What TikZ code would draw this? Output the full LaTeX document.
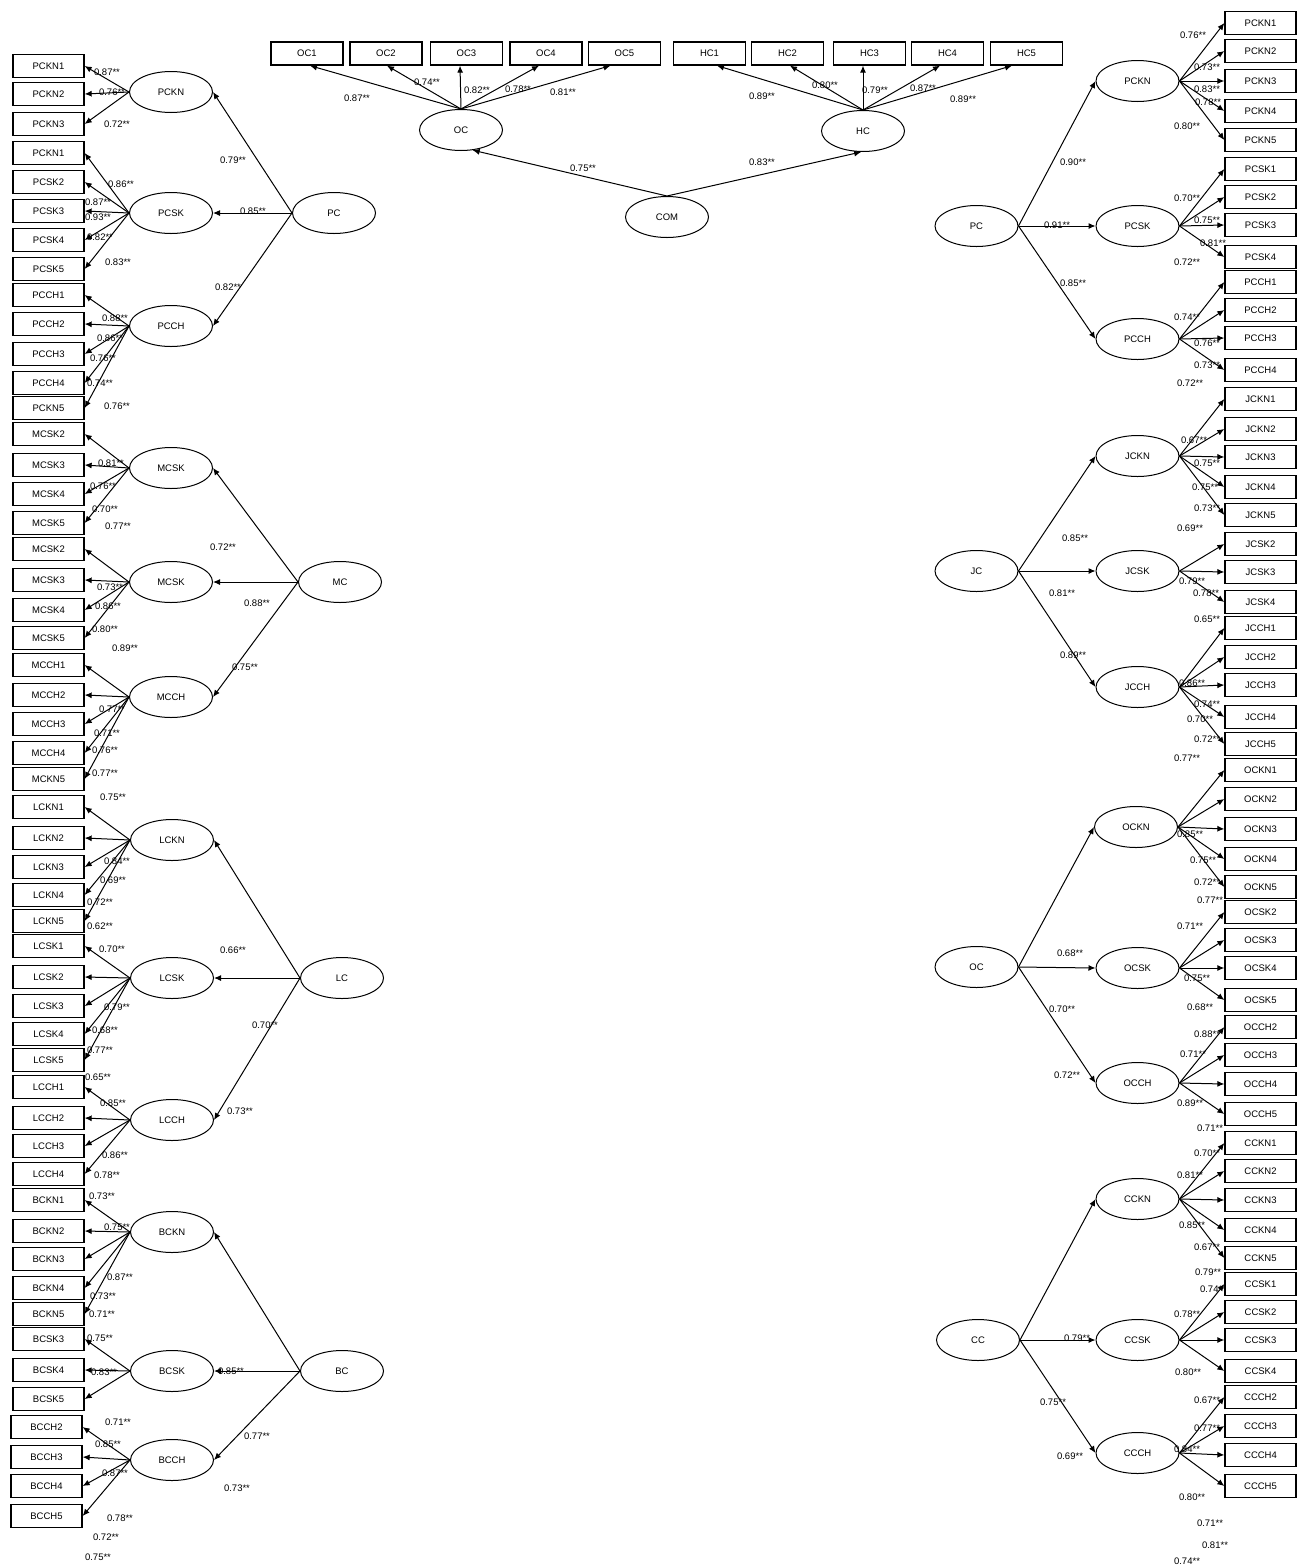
\documentclass[tikz,border=0pt]{standalone}
\usepackage{fontspec}
\setmainfont{Liberation Sans}
\usetikzlibrary{arrows.meta,shapes.geometric}
\begin{document}
\begin{tikzpicture}[x=1pt,y=-1pt,
  ind/.style={draw,line width=1.3pt,minimum width=71pt,minimum height=23pt,inner sep=0pt,font=\fontsize{9.5}{10}\selectfont},
  tind/.style={ind,minimum width=72pt},
  lat/.style={draw,ellipse,line width=1pt,minimum width=83pt,minimum height=41pt,inner sep=0pt,font=\fontsize{9.5}{10}\selectfont},
  arr/.style={line width=1pt,-{Latex[length=7pt,width=6pt]}},
  lab/.style={inner sep=0pt,font=\fontsize{9.5}{10}\selectfont}]
\useasboundingbox (0,0) rectangle (1307,1567);
% ---------- left indicator boxes
\foreach \n/\t/\y in {L1/PCKN1/66,L2/PCKN2/94,L3/PCKN3/124,L4/PCKN1/153,L5/PCSK2/182,L6/PCSK3/211,L7/PCSK4/240,L8/PCSK5/269,L9/PCCH1/295,L10/PCCH2/324,L11/PCCH3/354,L12/PCCH4/383,L13/PCKN5/408,
L14/MCSK2/434,L15/MCSK3/465,L16/MCSK4/494,L17/MCSK5/523,L18/MCSK2/549,L19/MCSK3/580,L20/MCSK4/610,L21/MCSK5/638,L22/MCCH1/665,L23/MCCH2/695,L24/MCCH3/724,L25/MCCH4/753,L26/MCKN5/779,
L27/LCKN1/807,L28/LCKN2/838,L29/LCKN3/867,L30/LCKN4/895,L31/LCKN5/921,L32/LCSK1/946,L33/LCSK2/977,L34/LCSK3/1006,L35/LCSK4/1034,L36/LCSK5/1060,L37/LCCH1/1087,L38/LCCH2/1118,L39/LCCH3/1146,L40/LCCH4/1174,
L41/BCKN1/1200,L42/BCKN2/1231,L43/BCKN3/1259,L44/BCKN4/1288,L45/BCKN5/1314,L46/BCSK3/1339,L47/BCSK4/1370,L48/BCSK5/1399}
  \node[ind] (\n) at (48.5,\y) {\t};
\foreach \n/\t/\y in {L49/BCCH2/1427,L50/BCCH3/1457,L51/BCCH4/1486,L52/BCCH5/1516}
  \node[ind] (\n) at (46.5,\y) {\t};
% ---------- right indicator boxes
\foreach \n/\t/\y in {R1/PCKN1/23,R2/PCKN2/51,R3/PCKN3/81,R4/PCKN4/111,R5/PCKN5/140,R6/PCSK1/169,R7/PCSK2/197,R8/PCSK3/225,R9/PCSK4/257,R10/PCCH1/282,R11/PCCH2/310,R12/PCCH3/338,R13/PCCH4/370,
R14/JCKN1/399,R15/JCKN2/429,R16/JCKN3/457,R17/JCKN4/487,R18/JCKN5/515,R19/JCSK2/544,R20/JCSK3/572,R21/JCSK4/602,R22/JCCH1/628,R23/JCCH2/657,R24/JCCH3/685,R25/JCCH4/717,R26/JCCH5/744,
R27/OCKN1/770,R28/OCKN2/799,R29/OCKN3/829,R30/OCKN4/859,R31/OCKN5/887,R32/OCSK2/912,R33/OCSK3/940,R34/OCSK4/968,R35/OCSK5/1000,R36/OCCH2/1027,R37/OCCH3/1055,R38/OCCH4/1084,R39/OCCH5/1114,
R40/CCKN1/1143,R41/CCKN2/1171,R42/CCKN3/1200,R43/CCKN4/1230,R44/CCKN5/1258,R45/CCSK1/1284,R46/CCSK2/1312,R47/CCSK3/1340,R48/CCSK4/1371,R49/CCCH2/1397,R50/CCCH3/1426,R51/CCCH4/1455,R52/CCCH5/1486}
  \node[ind] (\n) at (1260.5,\y) {\t};
% ---------- top boxes
\foreach \n/\t/\x in {T1/OC1/307,T2/OC2/386,T3/OC3/466.5,T4/OC4/546,T5/OC5/624.5,T6/HC1/709.5,T7/HC2/787.5,T8/HC3/869.5,T9/HC4/947.5,T10/HC5/1026.5}
  \node[tind] (\n) at (\x,53.5) {\t};
% ---------- left latent variables
\foreach \n/\t/\x/\y in {lPCKN/PCKN/171/92,lPCSK/PCSK/171/213,lPCCH/PCCH/171/326,lPC/PC/334/213,
lMCa/MCSK/171/468,lMCb/MCSK/171/582,lMCCH/MCCH/171/697,lMC/MC/340/582,
lLCKN/LCKN/172/840,lLCSK/LCSK/172/978,lLCCH/LCCH/172/1120,lLC/LC/342/978,
lBCKN/BCKN/172/1232,lBCSK/BCSK/172/1371,lBCCH/BCCH/172/1460,lBC/BC/342/1371}
  \node[lat] (\n) at (\x,\y) {\t};
% ---------- right latent variables
\foreach \n/\t/\x/\y in {rPCKN/PCKN/1137.5/81,rPCSK/PCSK/1137.5/226,rPCCH/PCCH/1137.5/339,rPC/PC/976.5/226,
rJCKN/JCKN/1137.5/456,rJCSK/JCSK/1137.5/571,rJCCH/JCCH/1137.5/687,rJC/JC/976.5/571,
rOCKN/OCKN/1136/827,rOCSK/OCSK/1137.5/968,rOCCH/OCCH/1137.5/1083,rOC/OC/976.5/967,
rCCKN/CCKN/1137.5/1199,rCCSK/CCSK/1137.5/1340,rCCCH/CCCH/1137.5/1453,rCC/CC/978/1340}
  \node[lat] (\n) at (\x,\y) {\t};
% ---------- top latent variables
\node[lat] (tOC) at (461,130) {OC};
\node[lat] (tHC) at (863,131) {HC};
\node[lat] (COM) at (667,217) {COM};
% ---------- left loadings
\foreach \e/\a/\b in {lPCKN/1/3,lPCSK/4/8,lPCCH/9/13,lMCa/14/17,lMCb/18/21,lMCCH/22/26,lLCKN/27/31,lLCSK/32/36,lLCCH/37/40,lBCKN/41/45,lBCSK/46/48,lBCCH/49/52}
  \foreach \k in {\a,...,\b} \draw[arr] (\e.west) -- (L\k.east);
\foreach \s/\e in {lPC/lPCKN,lPC/lPCSK,lPC/lPCCH,lMC/lMCa,lMC/lMCb,lMC/lMCCH,lLC/lLCKN,lLC/lLCSK,lLC/lLCCH,lBC/lBCKN,lBC/lBCSK,lBC/lBCCH}
  \draw[arr] (\s.west) -- (\e.east);
% ---------- right loadings
\foreach \e/\a/\b in {rPCKN/1/5,rPCSK/6/9,rPCCH/10/13,rJCKN/14/18,rJCSK/19/21,rJCCH/22/26,rOCKN/27/31,rOCSK/32/35,rOCCH/36/39,rCCKN/40/44,rCCSK/45/48,rCCCH/49/52}
  \foreach \k in {\a,...,\b} \draw[arr] (\e.east) -- (R\k.west);
\foreach \s/\e in {rPC/rPCKN,rPC/rPCSK,rPC/rPCCH,rJC/rJCKN,rJC/rJCSK,rJC/rJCCH,rOC/rOCKN,rOC/rOCSK,rOC/rOCCH,rCC/rCCKN,rCC/rCCSK,rCC/rCCCH}
  \draw[arr] (\s.east) -- (\e.west);
% ---------- top loadings
\foreach \t/\d in {T1/3,T2/1,T3/-6.5,T4/-7,T5/-14} \draw[arr] (tOC.north) -- ([xshift=\d pt]\t.south);
\foreach \t/\d in {T6/7.5,T7/2.5,T8/-6.5,T9/-7.5,T10/-14.5} \draw[arr] (tHC.north) -- ([xshift=\d pt]\t.south);
\draw[arr] (COM.north) -- (tOC.-60);
\draw[arr] (COM.north) -- (tHC.-95);
% ---------- coefficient labels
\foreach \x/\y/\t [count=\i] in {
107/72/0.87**,112/92/0.76**,117/124/0.72**,233/160/0.79**,121/184/0.86**,98/202/0.87**,98/217/0.93**,253/211/0.85**,100/237/0.82**,118/262/0.83**,228/287/0.82**,115/318/0.88**,110/338/0.86**,103/358/0.76**,100/383/0.74**,117/406/0.76**,
111/463/0.81**,103/486/0.76**,105/509/0.70**,118/526/0.77**,223/547/0.72**,110/587/0.73**,108/606/0.86**,257/603/0.88**,105/629/0.80**,125/648/0.89**,245/667/0.75**,112/709/0.77**,107/733/0.71**,105/750/0.76**,105/773/0.77**,113/797/0.75**,
117/861/0.84**,113/880/0.69**,100/902/0.72**,100/926/0.62**,112/949/0.70**,233/950/0.66**,117/1007/0.79**,105/1030/0.68**,100/1050/0.77**,265/1025/0.70**,98/1077/0.65**,113/1103/0.85**,240/1111/0.73**,115/1155/0.86**,
107/1175/0.78**,102/1196/0.73**,117/1227/0.75**,120/1277/0.87**,103/1296/0.73**,102/1314/0.71**,100/1338/0.75**,104/1372/0.83**,231/1371/0.85**,118/1422/0.71**,257/1436/0.77**,108/1444/0.85**,115/1473/0.87**,237/1488/0.73**,120/1518/0.78**,106/1537/0.72**,98/1557/0.75**,
357/98/0.87**,427/82/0.74**,477/90/0.82**,518/89/0.78**,563/92/0.81**,583/168/0.75**,762/96/0.89**,825/85/0.80**,875/90/0.79**,923/88/0.87**,963/99/0.89**,762/162/0.83**,
1193/35/0.76**,1207/67/0.73**,1207/89/0.83**,1208/102/0.78**,1187/126/0.80**,1073/162/0.90**,1187/198/0.70**,1057/225/0.91**,1207/220/0.75**,1213/243/0.81**,1187/262/0.72**,1073/283/0.85**,1187/317/0.74**,1207/343/0.76**,1207/365/0.73**,1190/383/0.72**,
1194/440/0.67**,1207/463/0.75**,1205/487/0.75**,1207/508/0.73**,1190/528/0.69**,1075/538/0.85**,1192/581/0.79**,1206/593/0.78**,1062/593/0.81**,1207/619/0.65**,1073/655/0.89**,1192/683/0.86**,1207/704/0.74**,1200/719/0.70**,1207/739/0.72**,1187/758/0.77**,
1190/834/0.85**,1203/860/0.75**,1207/882/0.72**,1210/900/0.77**,1190/926/0.71**,1070/953/0.68**,1197/978/0.75**,1200/1007/0.68**,1062/1009/0.70**,1207/1034/0.88**,1193/1054/0.71**,1067/1075/0.72**,1190/1103/0.89**,1210/1128/0.71**,
1207/1153/0.70**,1190/1175/0.81**,1192/1225/0.85**,1207/1247/0.67**,1208/1272/0.79**,1213/1289/0.74**,1187/1314/0.78**,1077/1338/0.79**,1188/1372/0.80**,1053/1402/0.75**,1207/1400/0.67**,1207/1428/0.77**,1187/1449/0.84**,1070/1456/0.69**,1192/1497/0.80**,1210/1523/0.71**,1215/1545/0.81**,1187/1561/0.74**}
  \node[lab] (lbl\i) at (\x,\y) {\t};
\end{tikzpicture}
\end{document}
